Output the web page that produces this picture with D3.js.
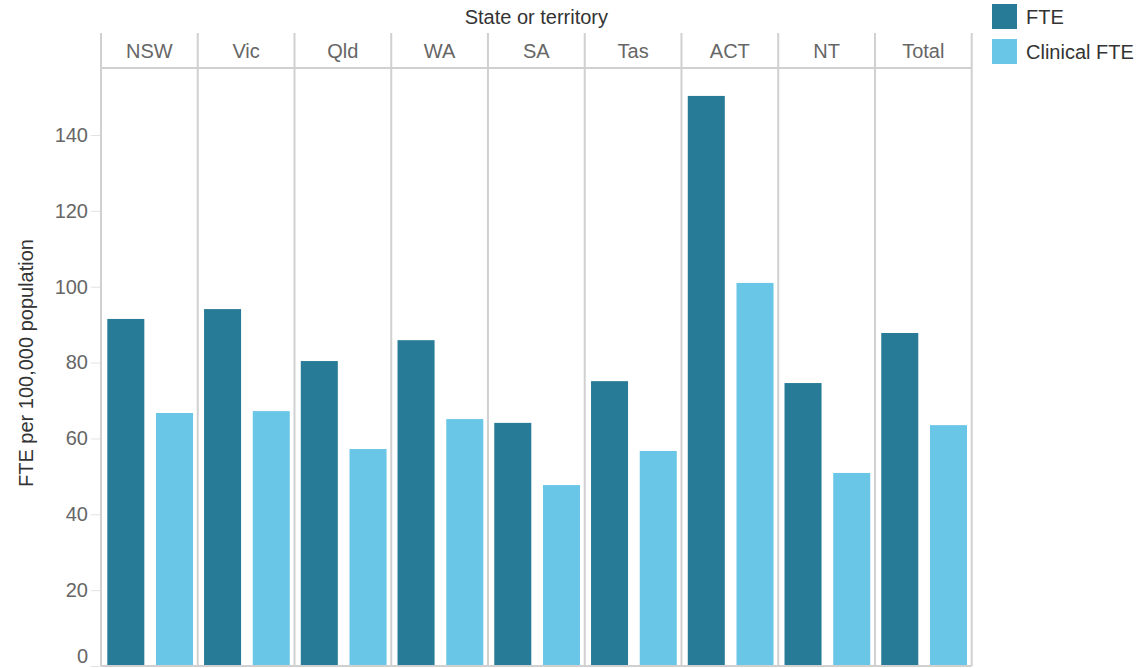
<!DOCTYPE html>
<html>
<head>
<meta charset="utf-8">
<script src="https://cdn.jsdelivr.net/npm/d3@7"></script>
<style>
  body { margin: 0; background: #fff; }
  text { font-family: "Liberation Sans", Arial, sans-serif; }
</style>
</head>
<body>
<svg id="chart" width="1138" height="668"></svg>
<script>
const categories = ["NSW", "Vic", "Qld", "WA", "SA", "Tas", "ACT", "NT", "Total"];
const seriesNames = ["FTE", "Clinical FTE"];
const fteValues = [91.5, 94.1, 80.4, 85.9, 64.1, 75.1, 150.3, 74.6, 87.8];
const clinicalValues = [66.7, 67.2, 57.2, 65.1, 47.7, 56.7, 101.0, 50.9, 63.5];
const yTicks = [0, 20, 40, 60, 80, 100, 120, 140];
const colors = ["#287B96", "#69C6E6"];

const svg = d3.select("#chart");
const plotLeft = 101, plotRight = 971.7, plotTop = 33, headerBottom = 68, plotBottom = 666;
const fs = 20;

const x = d3.scaleBand().domain(categories).range([plotLeft, plotRight]).padding(0);
const xInner = d3.scaleBand().domain(seriesNames).range([6.3, x.bandwidth() - 4.7]).paddingInner(0.24).paddingOuter(0);
const y = d3.scaleLinear().domain([0, 140]).range([plotBottom, 135]);

const data = categories.map((c, i) => ({ cat: c, values: [fteValues[i], clinicalValues[i]] }));

// bars
const groups = svg.append("g").selectAll("g").data(data).join("g")
  .attr("transform", d => `translate(${x(d.cat)},0)`);
groups.selectAll("rect").data(d => d.values.map((v, j) => ({ s: seriesNames[j], v, j })))
  .join("rect")
  .attr("x", d => xInner(d.s))
  .attr("width", xInner.bandwidth())
  .attr("y", d => y(d.v))
  .attr("height", d => y(0) - y(d.v))
  .attr("fill", d => colors[d.j]);

// panel borders
const grid = svg.append("g").attr("stroke", "#d0d0d0").attr("stroke-width", 2);
const edges = categories.map(c => x(c)).concat([plotRight]);
grid.selectAll("line.v").data(edges).join("line")
  .attr("x1", d => d).attr("x2", d => d)
  .attr("y1", plotTop).attr("y2", plotBottom);
grid.append("line").attr("x1", plotLeft).attr("x2", plotRight).attr("y1", headerBottom).attr("y2", headerBottom);
grid.append("line").attr("x1", plotLeft).attr("x2", plotRight).attr("y1", plotBottom).attr("y2", plotBottom);

// panel labels
svg.append("g").selectAll("text").data(categories).join("text")
  .attr("x", d => x(d) + x.bandwidth() / 2)
  .attr("y", 51)
  .attr("dy", "0.35em")
  .attr("text-anchor", "middle")
  .attr("font-size", fs)
  .attr("fill", "#666")
  .text(d => d);

// y axis
const yAxis = svg.append("g").attr("transform", `translate(${plotLeft - 1},0)`)
  .call(d3.axisLeft(y).tickValues(yTicks).tickSize(9).tickPadding(3).tickFormat(d3.format("d")));
yAxis.select(".domain").remove();
yAxis.selectAll(".tick line").attr("stroke", "#e3e3e3");
yAxis.selectAll(".tick text").attr("font-size", fs).attr("fill", "#666")
  .attr("font-family", "'Liberation Sans', Arial, sans-serif");
yAxis.selectAll(".tick text").filter(d => d === 0).attr("dy", "-0.2em");

// titles
svg.append("text").attr("x", (plotLeft + plotRight) / 2).attr("y", 17).attr("dy", "0.35em")
  .attr("text-anchor", "middle").attr("font-size", fs).attr("fill", "#333")
  .text("State or territory");
svg.append("text").attr("transform", "translate(26,363) rotate(-90)")
  .attr("dy", "0.35em").attr("text-anchor", "middle").attr("font-size", fs).attr("fill", "#333")
  .text("FTE per 100,000 population");

// legend
const legend = svg.append("g").selectAll("g").data(seriesNames).join("g")
  .attr("transform", (d, i) => `translate(992,${4 + i * 35})`);
legend.append("rect").attr("width", 25).attr("height", 25).attr("fill", (d, i) => colors[i]);
legend.append("text").attr("x", 34).attr("y", 12.5).attr("dy", "0.35em")
  .attr("font-size", fs).attr("fill", "#333").text(d => d);
</script>
</body>
</html>
